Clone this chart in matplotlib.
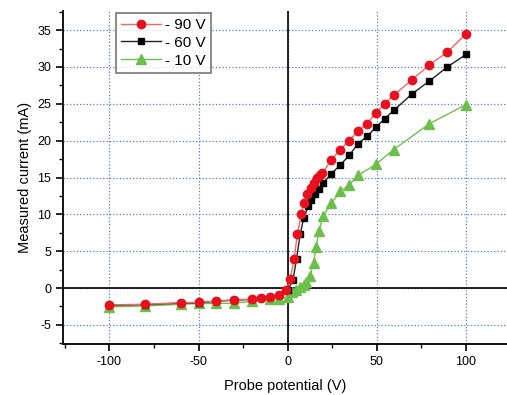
import matplotlib
matplotlib.use('Agg')
import matplotlib.pyplot as plt
from matplotlib.ticker import MultipleLocator

plt.rcParams['font.family'] = ['Liberation Sans', 'DejaVu Sans']
plt.rcParams['axes.unicode_minus'] = False

# -90 V
x_90 = [-100, -80, -60, -50, -40, -30, -20, -15, -10, -5, -1, 1.5, 3.5, 5.5, 7.5, 9,
        11, 13, 15, 16.5, 18, 19.5, 24.5, 29.5, 34.5, 39.5, 44.5, 49.5, 54.5, 59.5,
        69.5, 79.5, 89.5, 100]
y_90 = [-2.3, -2.2, -2.0, -1.95, -1.75, -1.6, -1.5, -1.35, -1.2, -0.95, -0.25, 1.2,
        3.9, 7.3, 10.0, 11.5, 12.7, 13.6, 14.3, 14.9, 15.3, 15.6, 17.4, 18.8, 20.0,
        21.3, 22.3, 23.8, 25.0, 26.2, 28.2, 30.3, 32.0, 34.5]

# -60 V
x_60 = [-100, -80, -60, -50, -40, -30, -20, -15, -10, -5, 0, 3, 5, 7, 9, 11.5,
        13, 15.5, 17.5, 19.8, 24.5, 29.5, 34.5, 39.5, 44.5, 49.5, 54.5, 59.5,
        69.5, 79.5, 89.5, 100]
y_60 = [-2.35, -2.25, -2.05, -2.0, -1.8, -1.65, -1.55, -1.4, -1.25, -1.0, -0.3, 1.1,
        4.0, 7.3, 9.5, 11.1, 11.9, 12.7, 13.4, 14.2, 15.5, 16.7, 18.0, 19.6, 20.6,
        21.8, 23.0, 24.1, 26.3, 28.1, 30.0, 31.7]

# -10 V
x_10 = [-100, -80, -60, -50, -40, -30, -20, -10, -5, 0, 2.5, 4.5, 7, 9, 10.5,
        12.5, 14.5, 16, 17.5, 20, 24.5, 29.5, 34.5, 39.5, 49.5, 59.5, 79.5, 100]
y_10 = [-2.55, -2.45, -2.2, -2.1, -2.1, -2.05, -1.8, -1.55, -1.5, -1.2, -0.6, -0.3,
        0.1, 0.4, 0.8, 1.6, 3.4, 5.6, 7.7, 9.8, 11.5, 13.1, 14.0, 15.3, 16.8, 18.8,
        22.3, 24.9]

fig = plt.figure(figsize=(5.07, 3.95), dpi=100)
ax = fig.add_axes([63 / 507, 51 / 395, 444 / 507, 333 / 395])

ax.plot(x_90, y_90, color='#f0666a', marker='o', markersize=6,
        markerfacecolor='#e8101c', markeredgecolor='#e8101c', lw=1, label='- 90 V', zorder=5)
ax.plot(x_60, y_60, color='#222222', marker='s', markersize=5,
        markerfacecolor='black', markeredgecolor='black', lw=1, label='- 60 V', zorder=4)
ax.plot(x_10, y_10, color='#70c050', marker='^', markersize=6.5,
        markerfacecolor='#6cbf4a', markeredgecolor='#6cbf4a', lw=1, label='- 10 V', zorder=3)

ax.axhline(0, color='black', lw=1.2, zorder=2)
ax.axvline(0, color='black', lw=1.2, zorder=2)

ax.set_xlim(-126, 123)
ax.set_ylim(-7.6, 37.6)
ax.xaxis.set_major_locator(MultipleLocator(50))
ax.xaxis.set_minor_locator(MultipleLocator(25))
ax.yaxis.set_major_locator(MultipleLocator(5))
ax.yaxis.set_minor_locator(MultipleLocator(2.5))
ax.grid(True, which='major', color='#5a7ad0', linestyle=':', lw=0.9)

ax.spines['top'].set_visible(False)
ax.spines['right'].set_visible(False)
ax.spines['left'].set_linewidth(1.3)
ax.spines['bottom'].set_linewidth(1.3)
ax.tick_params(which='major', direction='out', length=5, width=1.2, labelsize=9)
ax.tick_params(which='minor', direction='out', length=3, width=1.0)

ax.set_xlabel('Probe potential (V)', fontsize=10.5, labelpad=8)
ax.set_ylabel('Measured current (mA)', fontsize=10.5, labelpad=4)

leg = ax.legend(loc='upper left', bbox_to_anchor=(0.115, 1.0), fontsize=11,
                frameon=True, fancybox=False, handlelength=2.6, borderpad=0.35,
                labelspacing=0.25, handletextpad=0.3, borderaxespad=0.1)
leg.get_frame().set_edgecolor('#555555')
leg.get_frame().set_linewidth(1.2)

fig.savefig('out.png', dpi=100)
